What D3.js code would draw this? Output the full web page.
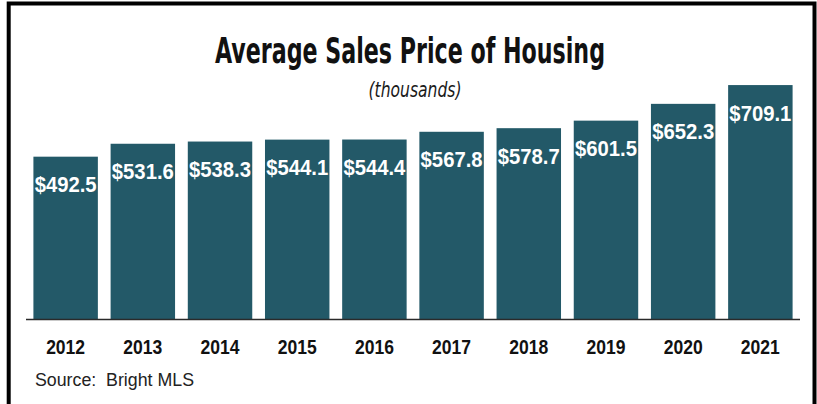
<html>
<head>
<script src="https://d3js.org/d3.v7.min.js"></script>
<style>
  body { margin: 0; background: #fff; }
</style>
</head>
<body>
<svg id="chart" width="817" height="404"></svg>
<script>
const years = ["2012","2013","2014","2015","2016","2017","2018","2019","2020","2021"];
const prices = [492.5, 531.6, 538.3, 544.1, 544.4, 567.8, 578.7, 601.5, 652.3, 709.1];
const title = "Average Sales Price of Housing";
const subtitle = "(thousands)";
const source = "Source:\u00a0 Bright MLS";

const svg = d3.select("svg#chart");
const baseY = 319.5;

// frame
svg.append("rect")
   .attr("x", 8.7).attr("y", 3.5)
   .attr("width", 805.8).attr("height", 420)
   .attr("fill", "none").attr("stroke", "#000").attr("stroke-width", 4);

const x = d3.scaleBand()
   .domain(years)
   .range([26, 800])
   .paddingInner(0.165)
   .paddingOuter(0.096);

// 0.3306 px per thousand
const y = d3.scaleLinear()
   .domain([0, 750])
   .range([baseY, baseY - 750 * 0.3306]);

svg.append("text")
   .attr("x", 410).attr("y", 62.7)
   .attr("text-anchor", "middle")
   .attr("textLength", 390).attr("lengthAdjust", "spacingAndGlyphs")
   .style("font-family", "'Liberation Sans Narrow', 'DejaVu Sans Condensed', sans-serif")
   .style("font-weight", "bold")
   .style("font-size", "35px")
   .attr("fill", "#111")
   .text(title);

svg.append("text")
   .attr("x", 415).attr("y", 96.5)
   .attr("text-anchor", "middle")
   .attr("textLength", 93).attr("lengthAdjust", "spacingAndGlyphs")
   .style("font-family", "'Liberation Sans Narrow', 'DejaVu Sans Condensed', sans-serif")
   .style("font-style", "italic")
   .style("font-size", "22px")
   .attr("fill", "#1a1a1a")
   .text(subtitle);

svg.selectAll("rect.bar").data(prices)
   .join("rect")
   .attr("class", "bar")
   .attr("x", (d, i) => x(years[i]))
   .attr("y", d => y(d))
   .attr("width", x.bandwidth())
   .attr("height", d => baseY - y(d))
   .attr("fill", "#235968");

svg.selectAll("text.val").data(prices)
   .join("text")
   .attr("class", "val")
   .attr("x", (d, i) => x(years[i]) + x.bandwidth() / 2)
   .attr("y", d => y(d) + 35.5)
   .attr("text-anchor", "middle")
   .attr("textLength", 62).attr("lengthAdjust", "spacingAndGlyphs")
   .style("font-family", "'Liberation Sans', Arial, sans-serif")
   .style("font-weight", "bold")
   .style("font-size", "22.5px")
   .attr("fill", "#fff")
   .text(d => "$" + d3.format(".1f")(d));

// baseline axis
svg.append("line")
   .attr("x1", 26).attr("x2", 800)
   .attr("y1", baseY).attr("y2", baseY)
   .attr("stroke", "#2a2a2a").attr("stroke-width", 1.5);

svg.selectAll("text.year").data(years)
   .join("text")
   .attr("class", "year")
   .attr("x", d => x(d) + x.bandwidth() / 2)
   .attr("y", 354)
   .attr("text-anchor", "middle")
   .attr("textLength", 39).attr("lengthAdjust", "spacingAndGlyphs")
   .style("font-family", "'Liberation Sans', Arial, sans-serif")
   .style("font-weight", "bold")
   .style("font-size", "19.5px")
   .attr("fill", "#111")
   .text(d => d);

svg.append("text")
   .attr("x", 35).attr("y", 386)
   .attr("textLength", 159).attr("lengthAdjust", "spacingAndGlyphs")
   .style("font-family", "'Liberation Sans', Arial, sans-serif")
   .style("font-size", "18px")
   .attr("fill", "#222")
   .text(source);
</script>
</body>
</html>
